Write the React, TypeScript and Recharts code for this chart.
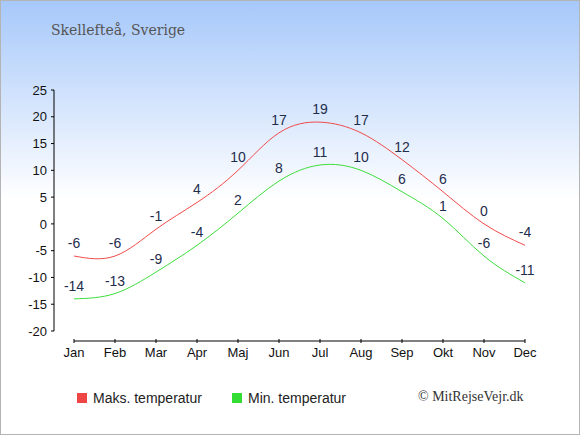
import { LineChart, Line, XAxis, YAxis, LabelList, Legend, ReferenceLine } from 'recharts';

const months = ['Jan', 'Feb', 'Mar', 'Apr', 'Maj', 'Jun', 'Jul', 'Aug', 'Sep', 'Okt', 'Nov', 'Dec'];
const maxTemps = [-6, -6, -1, 4, 10, 17, 19, 17, 12, 6, 0, -4];
const minTemps = [-14, -13, -9, -4, 2, 8, 11, 10, 6, 1, -6, -11];
const yTicks = [-20, -15, -10, -5, 0, 5, 10, 15, 20, 25];

const data = months.map((month, i) => ({ month, maks: maxTemps[i], min: minTemps[i] }));

const SANS = '"Liberation Sans", Arial, sans-serif';
const SERIF = '"Liberation Serif", Georgia, serif';
const TITLE_SERIF = '"DejaVu Serif", Georgia, serif';
const LABEL_COLOR = '#1f2d4d';

// x axis line sits 10px below the plot (plot is 241px tall for 45 degrees)
const AXIS_LINE_Y = -20 - (10 * 45) / 241;

function MonthTick({ x, y, payload }: any) {
  return (
    <g>
      <line x1={x} x2={x} y1={y + 8} y2={y + 12} stroke="#000" />
      <text x={x} y={y + 26} textAnchor="middle" fontSize={13} fill="#111" fontFamily={SANS}>
        {payload.value}
      </text>
    </g>
  );
}

function LegendContent() {
  const items = [
    { label: 'Maks. temperatur', color: '#ee4646', w: 155 },
    { label: 'Min. temperatur', color: '#33dd33', w: 120 },
  ];
  return (
    <div style={{ display: 'flex', fontFamily: SANS, fontSize: 14, color: '#222' }}>
      {items.map((it) => (
        <div key={it.label} style={{ display: 'flex', alignItems: 'center', width: it.w }}>
          <span style={{ width: 10, height: 10, background: it.color, marginRight: 6 }} />
          <span>{it.label}</span>
        </div>
      ))}
    </div>
  );
}

export default function App() {
  return (
    <div
      style={{
        position: 'absolute',
        left: 0,
        top: 0,
        width: 580,
        height: 435,
        background: 'linear-gradient(to bottom, #a6c8fa 0px, #ffffff 200px)',
        boxShadow: 'inset 0 0 0 1px #b4b4b4',
      }}
    >
      <div
        style={{
          position: 'absolute',
          left: 51,
          top: 22,
          fontFamily: TITLE_SERIF,
          fontSize: 14,
          color: '#555',
          whiteSpace: 'nowrap',
        }}
      >
        Skellefteå, Sverige
      </div>
      <LineChart
        width={580}
        height={435}
        data={data}
        margin={{ top: 90, right: 55, bottom: 74, left: 0 }}
        style={{ fontFamily: SANS }}
      >
        <XAxis
          dataKey="month"
          axisLine={false}
          tickLine={false}
          tickSize={0}
          tickMargin={0}
          height={30}
          padding={{ left: 20, right: 0 }}
          interval={0}
          tick={<MonthTick />}
        />
        <YAxis
          domain={[-20, 25]}
          ticks={yTicks}
          width={54}
          tickSize={3}
          tickMargin={4}
          axisLine={{ stroke: '#000' }}
          tickLine={{ stroke: '#000' }}
          tick={{ fontSize: 13, fill: '#111', fontFamily: SANS }}
          interval={0}
        />
        <ReferenceLine
          segment={[
            { x: 'Jan', y: AXIS_LINE_Y },
            { x: 'Dec', y: AXIS_LINE_Y },
          ]}
          ifOverflow="visible"
          stroke="#000"
        />
        <Line type="natural" dataKey="maks" stroke="#f04a4a" strokeWidth={1} dot={false} isAnimationActive={false}>
          <LabelList dataKey="maks" position="top" offset={8} fontSize={14} fill={LABEL_COLOR} fontFamily={SANS} />
        </Line>
        <Line type="natural" dataKey="min" stroke="#3ddd3d" strokeWidth={1} dot={false} isAnimationActive={false}>
          <LabelList dataKey="min" position="top" offset={8} fontSize={14} fill={LABEL_COLOR} fontFamily={SANS} />
        </Line>
        <Legend
          layout="horizontal"
          verticalAlign="middle"
          align="center"
          content={<LegendContent />}
          wrapperStyle={{ left: 77, top: 390, width: 300, height: 18 }}
        />
      </LineChart>
      <div
        style={{
          position: 'absolute',
          left: 418,
          top: 389,
          fontFamily: SERIF,
          fontSize: 14,
          color: '#333',
          whiteSpace: 'nowrap',
        }}
      >
        © MitRejseVejr.dk
      </div>
    </div>
  );
}
